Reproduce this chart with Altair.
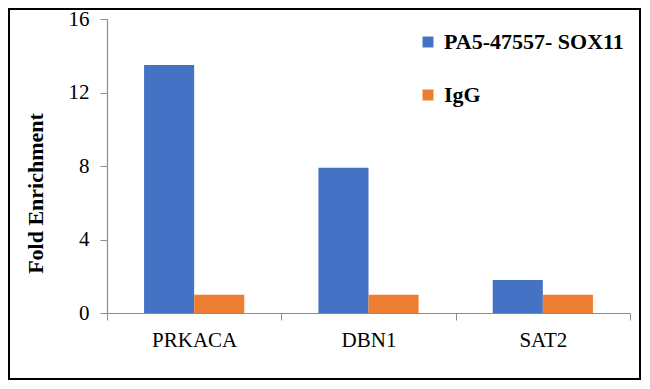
import altair as alt
import pandas as pd

genes = ["PRKACA", "DBN1", "SAT2"]
series_names = ["PA5-47557- SOX11", "IgG"]
sox11_values = [13.5, 7.9, 1.8]
igg_values = [1.0, 1.0, 1.0]
y_ticks = [0, 4, 8, 12, 16]
colors = ["#4472C4", "#ED7D31"]

rows = []
for g, a, b in zip(genes, sox11_values, igg_values):
    rows.append({"gene": g, "series": series_names[0], "value": a})
    rows.append({"gene": g, "series": series_names[1], "value": b})
df = pd.DataFrame(rows)

W, H = 523, 294
PL, PT = 99, 11
TOTW, TOTH = 633, 372
FONT = "Liberation Serif"

bars = alt.Chart(df).mark_bar().encode(
    x=alt.X("gene:N", sort=genes, title=None,
            scale=alt.Scale(paddingInner=0, paddingOuter=0),
            axis=alt.Axis(tickBand="extent", labelAngle=0,
                          labelFontSize=21, labelColor="#000000",
                          labelPadding=9, tickSize=7, tickColor="#8c8c8c",
                          domainColor="#8c8c8c", domainWidth=1.2, grid=False)),
    xOffset=alt.XOffset("series:N", sort=series_names,
                        scale=alt.Scale(paddingOuter=0.74, paddingInner=0)),
    y=alt.Y("value:Q", title="Fold Enrichment",
            scale=alt.Scale(domain=[0, 16], nice=False),
            axis=alt.Axis(values=y_ticks, labelFontSize=21,
                          labelColor="#000000", labelPadding=11, tickSize=7,
                          tickColor="#8c8c8c", domainColor="#8c8c8c",
                          domainWidth=1.2, grid=False,
                          titleFontSize=22, titleFontWeight="bold",
                          titleColor="#000000", titleX=-72, titleY=174,
                          titleAngle=270, titleAlign="center",
                          titleBaseline="middle")),
    color=alt.Color("series:N", sort=series_names, title=None,
                    scale=alt.Scale(domain=series_names, range=colors),
                    legend=alt.Legend(orient="none", legendX=310, legendY=12,
                                      symbolType="square", symbolSize=120,
                                      symbolStrokeWidth=0,
                                      labelFontSize=22, labelFontWeight="bold",
                                      labelColor="#000000", labelOffset=5,
                                      rowPadding=31, padding=0,
                                      labelLimit=400)),
)

border = alt.Chart(pd.DataFrame({"k": [0]})).mark_rect(
    filled=False, stroke="#000000", strokeWidth=2
).encode(
    x=alt.value(-PL + 1), x2=alt.value(TOTW - PL - 1),
    y=alt.value(-PT + 1), y2=alt.value(TOTH - PT - 1),
)

chart = alt.layer(bars, border).properties(
    width=W, height=H,
    autosize=alt.AutoSizeParams(type="none"),
    padding={"left": PL, "top": PT, "right": TOTW - PL - W, "bottom": TOTH - PT - H},
).configure(font=FONT).configure_axis(
    labelFont=FONT, titleFont=FONT
).configure_legend(
    labelFont=FONT, titleFont=FONT
).configure_view(stroke=None)

chart.save("out.html", embed_options={"renderer": "svg", "actions": False})
